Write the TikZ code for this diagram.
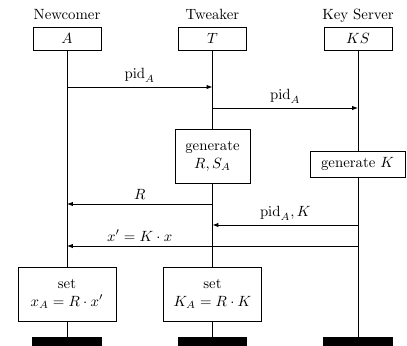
\documentclass[tikz,border=0pt]{standalone}
\usetikzlibrary{arrows.meta}
\begin{document}
\begin{tikzpicture}[x=0.675pt,y=-0.675pt,line width=0.6pt,
  head/.style={draw, minimum width=45.9pt, minimum height=15.5pt, inner sep=0pt},
  title/.style={inner sep=0pt, anchor=base},
  actbox/.style={draw, fill=white, align=center, inner sep=0pt, minimum width=#1},
  bar/.style={fill=black, draw=none, minimum width=46.6pt, minimum height=8pt, inner sep=0pt, anchor=north},
  msg/.style={-{Latex[length=4pt,width=3pt]}},
  lbl/.style={above, inner sep=3pt}]
\useasboundingbox (0,0) rectangle (407,345);
% titles
\node[title] (tA) at (67,19) {Newcomer};
\node[title] (tT) at (212.5,19) {Tweaker};
\node[title] (tK) at (358,19) {Key Server};
% heads
\node[head] (A) at (67,38.5) {$A$};
\node[head] (T) at (212.5,38.5) {$T$};
\node[head] (K) at (358,38.5) {$KS$};
% activity boxes
\node[actbox=50.6pt, minimum height=36.5pt] (genR) at (212.5,156) {generate\\$R,S_A$};
\node[actbox=64.1pt, minimum height=17.6pt] (genK) at (357.5,164) {generate $K$};
\node[actbox=66.2pt, minimum height=36.5pt] (setA) at (67,294) {set\\$x_A=R\cdot x'$};
\node[actbox=66.2pt, minimum height=36.5pt] (setT) at (212.5,294) {set\\$K_A=R\cdot K$};
% bars
\node[bar] (bA) at (67,337) {};
\node[bar] (bT) at (212.5,337) {};
\node[bar] (bK) at (358,337) {};
% lifelines
\draw (A) -- (setA);
\draw (setA) -- (bA);
\draw (T) -- (genR);
\draw (genR) -- (setT);
\draw (setT) -- (bT);
\draw (K.south) -- (genK.north -| K.south);
\draw (genK.south -| K.south) -- (bK.north);
% message endpoints
\coordinate (a1) at (67,87);
\coordinate (t1) at (212.5,87);
\coordinate (t2) at (212.5,108);
\coordinate (k2) at (358,108);
\coordinate (t3) at (212.5,204);
\coordinate (a3) at (67,204);
\coordinate (k4) at (358,225);
\coordinate (t4) at (212.5,225);
\coordinate (k5) at (358,246);
\coordinate (a5) at (67,246);
% messages
\draw[msg] (a1) -- (t1) node[midway,lbl] {$\mathrm{pid}_A$};
\draw[msg] (t2) -- (k2) node[midway,lbl] {$\mathrm{pid}_A$};
\draw[msg] (t3) -- (a3) node[midway,lbl] {$R$};
\draw[msg] (k4) -- (t4) node[midway,lbl] {$\mathrm{pid}_A, K$};
\draw[msg] (k5) -- (a5) node[pos=0.75,lbl] {$x'=K\cdot x$};
\end{tikzpicture}
\end{document}
